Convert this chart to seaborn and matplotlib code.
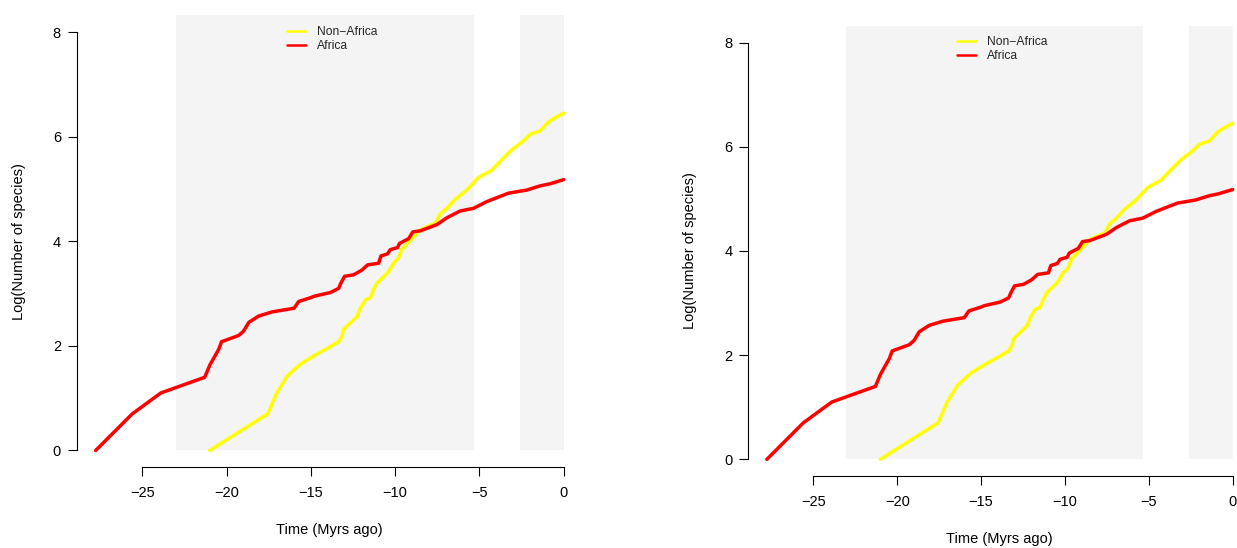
import matplotlib

matplotlib.use("Agg")
import matplotlib.pyplot as plt
import pandas as pd
import seaborn as sns

# lineage-through-time curves
africa_time = [-27.77, -25.6, -23.9, -21.3, -21.0, -20.46, -20.3, -19.28, -19.0, -18.68,
               -18.1, -17.3, -16.0, -15.72, -15.03, -14.8, -13.85, -13.35, -13.25, -13.0,
               -12.46, -11.97, -11.63, -10.98, -10.84, -10.45, -10.29, -9.86, -9.74, -9.2,
               -8.95, -8.51, -7.52, -6.93, -6.14, -5.36, -4.56, -3.28, -2.19, -1.4, -0.81, 0.0]
africa_logn = [0.0, 0.70, 1.10, 1.40, 1.63, 1.94, 2.08, 2.20, 2.28, 2.45,
               2.57, 2.65, 2.72, 2.85, 2.92, 2.95, 3.02, 3.10, 3.18, 3.33,
               3.36, 3.45, 3.55, 3.58, 3.72, 3.76, 3.84, 3.88, 3.96, 4.05,
               4.18, 4.20, 4.32, 4.45, 4.58, 4.63, 4.76, 4.92, 4.98, 5.06, 5.10, 5.18]

nonafrica_time = [-21.0, -17.56, -17.04, -16.41, -15.62, -14.83, -14.04, -13.35, -13.15, -13.05,
                  -12.26, -12.07, -11.77, -11.47, -11.28, -11.08, -10.69, -10.39, -10.1, -9.8,
                  -9.6, -9.3, -8.91, -8.51, -7.62, -7.33, -6.93, -6.44, -5.75, -5.06,
                  -4.27, -3.77, -3.08, -2.39, -1.96, -1.40, -0.91, -0.41, 0.0]
nonafrica_logn = [0.0, 0.70, 1.09, 1.42, 1.65, 1.81, 1.95, 2.08, 2.19, 2.32,
                  2.56, 2.72, 2.88, 2.92, 3.08, 3.20, 3.32, 3.42, 3.58, 3.68,
                  3.85, 3.95, 4.08, 4.22, 4.35, 4.52, 4.63, 4.80, 4.98, 5.22,
                  5.36, 5.53, 5.75, 5.92, 6.05, 6.11, 6.28, 6.38, 6.45]

regions = ["Non−Africa", "Africa"]
region_colors = ["#FFFF00", "#FF0000"]

# shaded epochs (Miocene, Pleistocene)
epochs = [(-23.03, -5.333), (-2.58, 0.0)]

x_ticks = [-25, -20, -15, -10, -5, 0]
y_ticks = [0, 2, 4, 6, 8]

sns.set_style("white")
plt.rcParams["font.family"] = ["Liberation Sans", "DejaVu Sans"]

df = pd.concat([
    pd.DataFrame({"time": nonafrica_time, "logn": nonafrica_logn, "region": regions[0]}),
    pd.DataFrame({"time": africa_time, "logn": africa_logn, "region": regions[1]}),
])

fig = plt.figure(figsize=(12.37, 5.48), dpi=100)
panels = [
    fig.add_axes([0.0622, 0.1474, 0.4086, 0.8245]),
    fig.add_axes([0.6049, 0.1314, 0.4066, 0.8212]),
]

ylo, yhi = -0.32, 8.32
for ax in panels:
    for start, end in epochs:
        ax.axvspan(start, end, ymin=(0 - ylo) / (yhi - ylo), ymax=1.0,
                   color="#F4F4F4", lw=0, zorder=0)
    sns.lineplot(data=df, x="time", y="logn", hue="region", hue_order=regions,
                 palette=region_colors, sort=False, estimator=None, lw=2.5,
                 ax=ax, zorder=3)
    ax.set_xlim(-28.88, 1.11)
    ax.set_ylim(ylo, yhi)
    ax.set_xticks(x_ticks)
    ax.set_yticks(y_ticks)
    for side in ["top", "right"]:
        ax.spines[side].set_visible(False)
    ax.spines["left"].set_bounds(0, 8)
    ax.spines["bottom"].set_bounds(-25, 0)
    for side in ["left", "bottom"]:
        ax.spines[side].set_color("black")
        ax.spines[side].set_linewidth(0.8)
    ax.tick_params(axis="both", direction="out", length=6.5, width=0.8,
                   color="black", labelcolor="black", labelsize=10.5,
                   bottom=True, left=True)
    ax.tick_params(axis="x", pad=7)
    ax.tick_params(axis="y", pad=5)
    ax.set_xlabel("Time (Myrs ago)", fontsize=10.5, color="black")
    ax.set_ylabel("Log(Number of species)", fontsize=10.5, color="black")
    ax.xaxis.set_label_coords(0.5, -0.1235)
    ax.yaxis.set_label_coords(-0.101, 0.5)
    ax.set_facecolor("white")
    handles, labels = ax.get_legend_handles_labels()
    leg = ax.legend(handles, labels, loc="upper center", bbox_to_anchor=(0.505, 0.982),
                    frameon=False, fontsize=8.7, handlelength=1.6, handletextpad=0.9,
                    labelspacing=0.15, borderpad=0.2, borderaxespad=0)
    for line in leg.get_lines():
        line.set_linewidth(1.8)

fig.savefig("out.png", dpi=100)
